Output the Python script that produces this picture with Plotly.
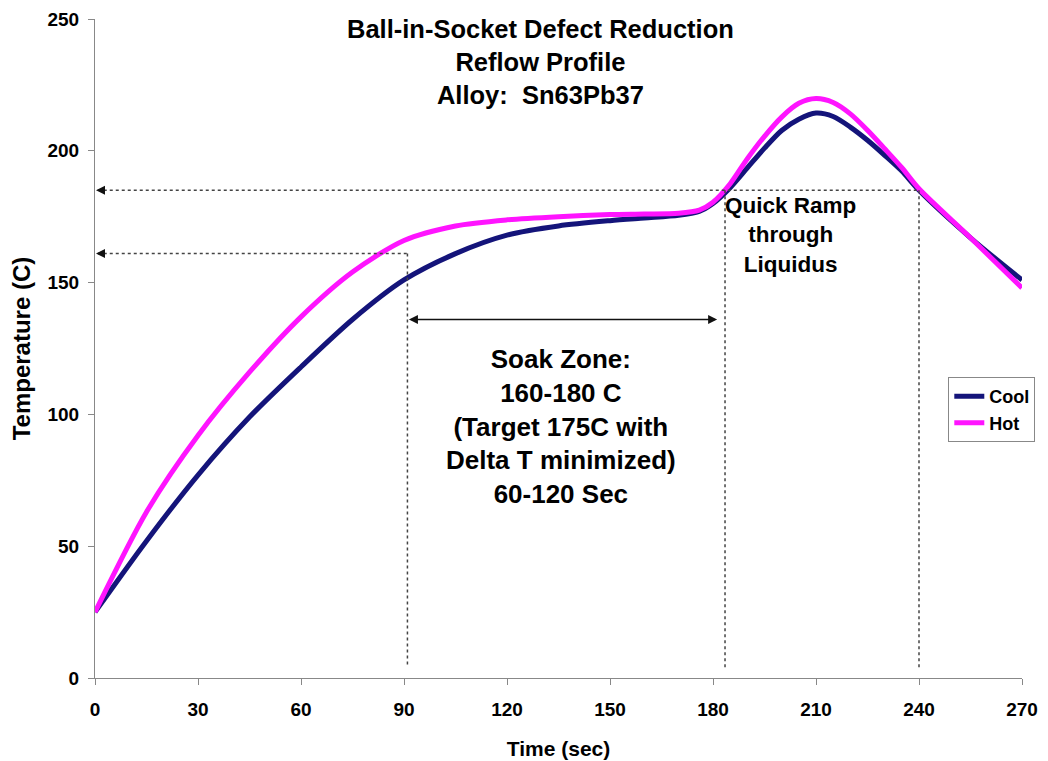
import plotly.graph_objects as go

# ---- data ----
time_s = [0, 15, 30, 45, 60, 75, 90, 105, 120, 135, 150, 160, 170, 176, 180, 185,
          190, 195, 200, 205, 210, 215, 220, 225, 230, 235, 240, 255, 270]
cool_c = [25, 52, 77, 99, 118, 136, 151, 161, 168, 171.5, 173.5, 174.5, 175.5, 177, 180, 186,
          193.5, 201, 207.7, 212, 214.3, 213, 209, 204, 198.3, 192.3, 185, 167, 151]
hot_c = [25, 63, 92, 116, 137, 154, 166, 171.5, 173.8, 175, 175.8, 176, 176.3, 177.5, 180.5, 187.5,
         197, 205.5, 212.8, 218, 219.8, 218.3, 214, 207.8, 200.8, 193.6, 185.6, 167, 148]

x_ticks = [0, 30, 60, 90, 120, 150, 180, 210, 240, 270]
y_ticks = [0, 50, 100, 150, 200, 250]

# annotation guide values
liquidus_line = 185
soak_low = 161
soak_start = 91
soak_end = 183.5
ramp_end = 240
soak_arrow_y = 136
soak_arrow_x = [91, 181.2]
guide_bottom = 4

title_lines = ["Ball-in-Socket Defect Reduction", "Reflow Profile", "Alloy:  Sn63Pb37"]
soak_lines = ["Soak Zone:", "160-180 C", "(Target 175C with", "Delta T minimized)", "60-120 Sec"]
ramp_lines = ["Quick Ramp", "through", "Liquidus"]

FONT = "Liberation Sans, Arial, sans-serif"

fig = go.Figure()
fig.add_trace(go.Scatter(x=time_s, y=cool_c, name="Cool", mode="lines",
                         line=dict(color="#14147a", width=5, shape="spline", smoothing=0.8)))
fig.add_trace(go.Scatter(x=time_s, y=hot_c, name="Hot", mode="lines",
                         line=dict(color="#ff14ff", width=5, shape="spline", smoothing=0.8)))

dot = dict(color="#444444", width=1.5, dash="dot")
shapes = [
    dict(type="line", xref="x", yref="y", x0=0.8, x1=ramp_end, y0=liquidus_line, y1=liquidus_line, line=dot),
    dict(type="line", xref="x", yref="y", x0=0.8, x1=soak_start, y0=soak_low, y1=soak_low, line=dot),
    dict(type="line", xref="x", yref="y", x0=soak_start, x1=soak_start, y0=soak_low, y1=guide_bottom, line=dot),
    dict(type="line", xref="x", yref="y", x0=soak_end, x1=soak_end, y0=liquidus_line, y1=guide_bottom, line=dot),
    dict(type="line", xref="x", yref="y", x0=ramp_end, x1=ramp_end, y0=liquidus_line, y1=guide_bottom, line=dot),
]

annotations = []
# left arrowheads on dotted guides
for yv in [liquidus_line, soak_low]:
    annotations.append(dict(x=0.3, y=yv, ax=3, ay=yv, xref="x", yref="y", axref="x", ayref="y",
                            text="", showarrow=True, arrowhead=2, arrowsize=1.2, arrowwidth=1.5,
                            arrowcolor="#111111"))
# double arrow soak zone
annotations.append(dict(x=soak_arrow_x[1], y=soak_arrow_y, ax=soak_arrow_x[0], ay=soak_arrow_y,
                        xref="x", yref="y", axref="x", ayref="y", text="", showarrow=True,
                        arrowhead=2, startarrowhead=2, arrowside="end+start", arrowsize=1.2,
                        startarrowsize=1.2, arrowwidth=1.5, arrowcolor="#111111"))
annotations.append(dict(x=0.4804, y=0.935, xref="paper", yref="paper", showarrow=False,
                        xanchor="center", yanchor="middle",
                        text="<br>".join(title_lines), align="center",
                        font=dict(family=FONT, size=25.5, color="black", weight="bold")))
annotations.append(dict(x=135.8, y=95.6, xref="x", yref="y", showarrow=False,
                        xanchor="center", yanchor="middle",
                        text="<br>".join(soak_lines), align="center",
                        font=dict(family=FONT, size=26, color="black", weight="bold")))
annotations.append(dict(x=202.5, y=168, xref="x", yref="y", showarrow=False,
                        xanchor="center", yanchor="middle",
                        text="<br>".join(ramp_lines), align="center",
                        font=dict(family=FONT, size=22.5, color="black", weight="bold")))

tickfont = dict(family=FONT, size=19, color="black", weight="bold")
fig.update_layout(
    width=1040, height=753,
    margin=dict(l=87, r=26, t=11, b=83, autoexpand=False),
    paper_bgcolor="white", plot_bgcolor="white",
    shapes=shapes, annotations=annotations,
    showlegend=True,
    legend=dict(x=0.9205, y=0.4566, xanchor="left", yanchor="top",
                bordercolor="#888888", borderwidth=1, bgcolor="white",
                font=dict(family=FONT, size=18, color="black", weight="bold"),
                tracegroupgap=0, itemwidth=30),
    xaxis=dict(range=[0, 270], tickvals=x_ticks, ticks="outside", ticklen=6, tickcolor="#888888",
               showline=True, linecolor="#888888", linewidth=1.2, showgrid=False, zeroline=False,
               tickfont=tickfont, ticklabelstandoff=8, automargin=False,
               title=dict(text="Time (sec)", standoff=22,
                          font=dict(family=FONT, size=21, color="black", weight="bold"))),
    yaxis=dict(range=[0, 250], tickvals=y_ticks, ticks="outside", ticklen=6, tickcolor="#888888",
               showline=True, linecolor="#888888", linewidth=1.2, showgrid=False, zeroline=False,
               tickfont=tickfont, ticklabelstandoff=5, automargin=False,
               title=dict(text="Temperature (C)", standoff=12,
                          font=dict(family=FONT, size=24, color="black", weight="bold"))),
    xaxis2=dict(range=[0, 270], tickvals=x_ticks, ticks="inside", ticklen=6, tickcolor="#888888",
                overlaying="x", showticklabels=False, showline=False, showgrid=False, zeroline=False),
    yaxis2=dict(range=[0, 250], tickvals=y_ticks, ticks="inside", ticklen=6, tickcolor="#888888",
                overlaying="y", showticklabels=False, showline=False, showgrid=False, zeroline=False),
)

fig.write_html("out.html")
